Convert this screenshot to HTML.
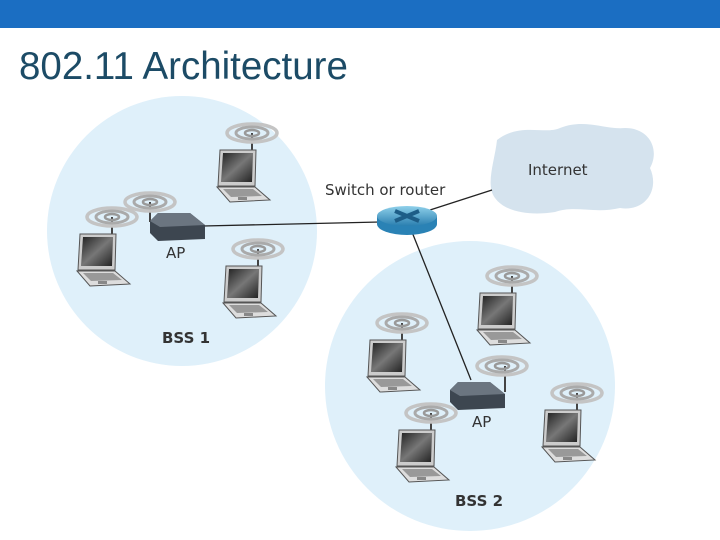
<!DOCTYPE html>
<html><head><meta charset="utf-8"><style>
body{margin:0;width:720px;height:540px;background:#fff;overflow:hidden;font-family:"Liberation Sans",sans-serif}
.bar{position:absolute;left:0;top:0;width:720px;height:28px;background:#1b6ec2}
.t{position:absolute;left:19px;top:45px;font-size:38.5px;color:#1c4b66}
svg{position:absolute;left:0;top:0}
</style></head><body>
<div class="bar"></div>
<div class="t">802.11 Architecture</div>
<svg width="720" height="540" viewBox="0 0 720 540">
<defs>
<linearGradient id="scr" x1="0" y1="0" x2="1" y2="1"><stop offset="0" stop-color="#222"/><stop offset="0.5" stop-color="#777"/><stop offset="1" stop-color="#222"/></linearGradient>
<linearGradient id="rt" x1="0" y1="0" x2="0" y2="1"><stop offset="0" stop-color="#8fd0ea"/><stop offset="1" stop-color="#2a7fb0"/></linearGradient>
<g id="wifi" fill="none" stroke="#999">
<ellipse cx="0" cy="0" rx="25" ry="9" stroke-width="3.5" stroke="#c4c4c4"/>
<ellipse cx="0" cy="0" rx="16" ry="6" stroke-width="3" stroke="#aaa"/>
<ellipse cx="0" cy="0" rx="7" ry="3" stroke-width="2.5"/>
</g>
<g id="lap">
<line x1="34" y1="0" x2="34" y2="-17" stroke="#444" stroke-width="2"/>
<use href="#wifi" x="34" y="-17"/>
<polygon points="2,0 38,0 37,36 0,36" fill="#ccc" stroke="#555"/>
<polygon points="5,3 35,3 34,32 3,32" fill="url(#scr)"/>
<polygon points="-1,37 37,37 52,50 12,52" fill="#ddd" stroke="#555"/>
<polygon points="5,39 35,39 44,46 13,47" fill="#999"/>
<rect x="20" y="47" width="9" height="3" fill="#888"/>
</g>
<g id="ap">
<polygon points="0,8 8,0 40,0 55,12 55,26 8,28 0,20" fill="#3d4650"/>
<polygon points="0,8 8,0 40,0 55,12 10,14" fill="#6b7580"/>
</g>
</defs>
<circle cx="182" cy="231" r="135" fill="#dff0fa"/>
<circle cx="470" cy="386" r="145" fill="#dff0fa"/>
<path d="M497,140 C520,122 545,135 560,128 C585,118 605,130 625,128 C650,128 660,150 650,168 C660,190 645,212 620,208 C595,214 575,205 555,212 C530,216 505,212 495,198 C485,185 495,160 497,140Z" fill="#d5e3ee"/>
<g stroke="#222" stroke-width="1.3">
<line x1="203" y1="226" x2="380" y2="222"/>
<line x1="430" y1="210" x2="492" y2="190"/>
<line x1="412" y1="232" x2="471" y2="380"/>
</g>
<ellipse cx="407" cy="224" rx="30" ry="11" fill="#2a82b5"/>
<rect x="377" y="216" width="60" height="8" fill="#2a82b5"/>
<ellipse cx="407" cy="216" rx="30" ry="10" fill="url(#rt)"/>
<path d="M395,211 L419,221 M419,211 L395,221" stroke="#1d5d87" stroke-width="4"/>
<use href="#lap" x="218" y="150"/>
<use href="#lap" x="78" y="234"/>
<use href="#lap" x="224" y="266"/>
<use href="#lap" x="478" y="293"/>
<use href="#lap" x="368" y="340"/>
<use href="#lap" x="543" y="410"/>
<use href="#lap" x="397" y="430"/>
<line x1="150" y1="222" x2="150" y2="202" stroke="#444" stroke-width="2"/>
<use href="#wifi" x="150" y="202"/>
<use href="#ap" x="150" y="213"/>
<line x1="505" y1="392" x2="505" y2="366" stroke="#444" stroke-width="2"/>
<use href="#wifi" x="502" y="366"/>
<use href="#ap" x="450" y="382"/>
<g font-family="'DejaVu Sans','Liberation Sans',sans-serif" fill="#333">
<text x="166" y="258" font-size="15">AP</text>
<text x="472" y="427" font-size="15">AP</text>
<text x="162" y="343" font-size="15" font-weight="bold">BSS 1</text>
<text x="455" y="506" font-size="15" font-weight="bold">BSS 2</text>
<text x="325" y="195" font-size="15">Switch or router</text>
<text x="528" y="175" font-size="15">Internet</text>
</g>
</svg>
</body></html>
